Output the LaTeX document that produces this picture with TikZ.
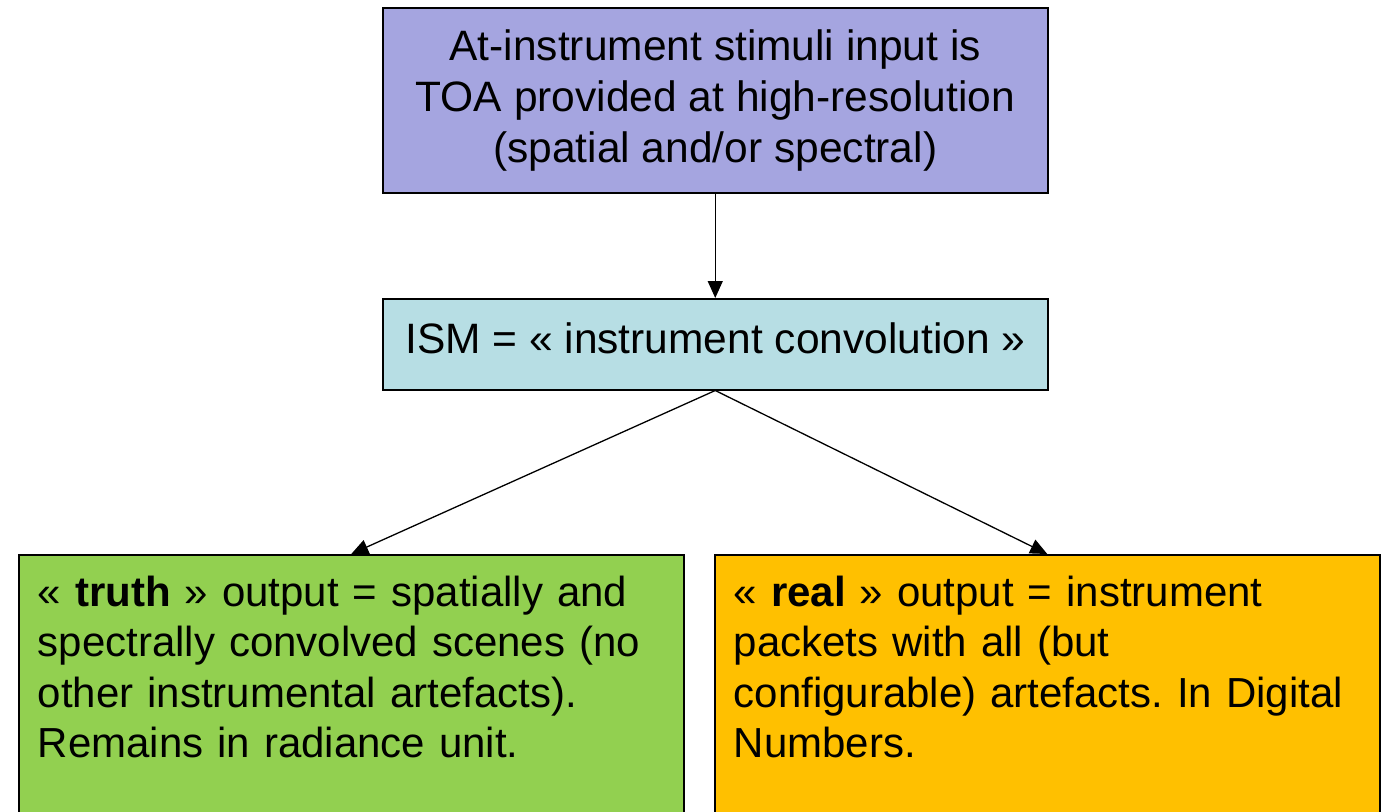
\documentclass[tikz,border=0pt]{standalone}
\usepackage{fontspec}
\setmainfont{Liberation Sans}
\usetikzlibrary{arrows.meta,positioning}

\definecolor{toablue}{RGB}{165,165,224}
\definecolor{ismcyan}{RGB}{183,222,228}
\definecolor{truthgreen}{RGB}{146,208,80}
\definecolor{realorange}{RGB}{255,192,0}

\frenchspacing

\begin{document}
\begin{tikzpicture}[x=1pt, y=-1pt,
    box/.style={draw=black, line width=1.5pt, rectangle, inner sep=0pt,
        font=\fontsize{42.5}{51}\selectfont},
    outbox/.style={box, anchor=north west, align=left, text width=627,
        inner xsep=19, inner ysep=21, text depth=240,
        font=\fontsize{42}{50.5}\selectfont},
    arrow/.style={line width=1.3pt, -{Triangle[width=15pt,length=17pt]}}]

\useasboundingbox (0,0) rectangle (1386,811);   % page size of the reference

    \node [box, fill=toablue, anchor=north west, align=center,
        minimum width=665, minimum height=185] (toa) at (382,7)
        {At-instrument stimuli input is\\TOA provided at high-resolution\\(spatial and/or spectral)};

    \node [box, fill=ismcyan, anchor=north west, text depth=12,
        minimum width=665, minimum height=91] (ism) at (382,298)
        {ISM = « instrument convolution »};

    % the two outputs run off the bottom of the page
    \node [outbox, fill=truthgreen] (truth) at (18,554)
        {« \textbf{truth} » output = spatially and\\spectrally convolved scenes (no\\other instrumental artefacts).\\Remains in radiance unit.};

    \node [outbox, fill=realorange] (real) at (714,554)
        {« \textbf{real} » output = instrument\\packets with all (but\\configurable) artefacts. In Digital\\Numbers.};

    \draw [arrow] (toa.south) -- (ism.north);       % stimuli into the ISM
    \draw [arrow] (ism.south) -- (truth.north);     % truth branch
    \draw [arrow] (ism.south) -- (real.north);      % real branch

\end{tikzpicture}
\end{document}
